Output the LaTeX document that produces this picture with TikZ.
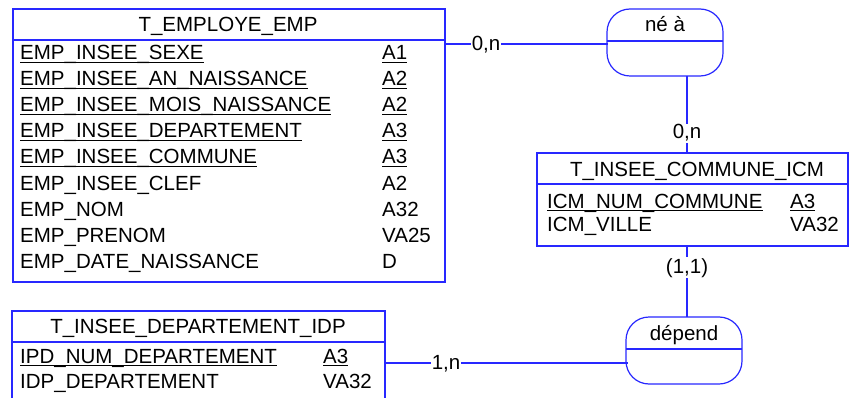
\documentclass[tikz,border=0pt]{standalone}
\usepackage{fontspec}
\setmainfont{Liberation Sans}
\definecolor{erblue}{RGB}{40,40,255}
\newcommand\fldkey[4]{\node[fld] (#1) at (#2,#3) {#4};
  \draw[uline] ([yshift=-2.8pt]#1.base west) -- ([yshift=-2.8pt]#1.base east);}
\newcommand\fldplain[4]{\node[fld] (#1) at (#2,#3) {#4};}
\begin{document}
\begin{tikzpicture}[x=1pt,y=-1pt,
  bline/.style={draw=erblue,line width=1.2pt},
  tbl/.style={bline,rectangle,inner sep=0pt,outer sep=0pt,anchor=north west},
  assoc/.style={bline,rectangle,rounded corners=23pt,inner sep=0pt,outer sep=0pt,
    minimum width=116pt,minimum height=67pt},
  fld/.style={anchor=base west,inner sep=0pt,font=\fontsize{20.5}{24}\selectfont},
  ttl/.style={anchor=base,inner sep=0pt,font=\fontsize{20.5}{24}\selectfont},
  card/.style={anchor=base,fill=white,inner sep=1pt,font=\fontsize{20.5}{24}\selectfont},
  uline/.style={draw=black,line width=1.2pt}]
\useasboundingbox (0,0) rectangle (850,398);
\fill[white] (0,0) rectangle (850,398);

% ---------- T_EMPLOYE_EMP ----------
\node[tbl,minimum width=432pt,minimum height=273pt] (emp) at (13,9) {};
\draw[bline] (emp.north west) ++(0,31) -- ++(432,0);
\node[ttl] (empt) at (228,32) {T\_EMPLOYE\_EMP};
\fldkey{e1}{20}{60}{EMP\_INSEE\_SEXE}
\fldkey{e1y}{382}{60}{A1}
\fldkey{e2}{20}{86}{EMP\_INSEE\_AN\_NAISSANCE}
\fldkey{e2y}{382}{86}{A2}
\fldkey{e3}{20}{112}{EMP\_INSEE\_MOIS\_NAISSANCE}
\fldkey{e3y}{382}{112}{A2}
\fldkey{e4}{20}{138}{EMP\_INSEE\_DEPARTEMENT}
\fldkey{e4y}{382}{138}{A3}
\fldkey{e5}{20}{164}{EMP\_INSEE\_COMMUNE}
\fldkey{e5y}{382}{164}{A3}
\fldplain{e6}{20}{190}{EMP\_INSEE\_CLEF}
\fldplain{e6y}{382}{190}{A2}
\fldplain{e7}{20}{216}{EMP\_NOM}
\fldplain{e7y}{382}{216}{A32}
\fldplain{e8}{20}{242}{EMP\_PRENOM}
\fldplain{e8y}{382}{242}{VA25}
\fldplain{e9}{20}{268}{EMP\_DATE\_NAISSANCE}
\fldplain{e9y}{382}{268}{D}

% ---------- T_INSEE_COMMUNE_ICM ----------
\node[tbl,minimum width=311pt,minimum height=93pt] (com) at (537,153) {};
\draw[bline] (com.north west) ++(0,31) -- ++(311,0);
\node[ttl] (comt) at (697,176) {T\_INSEE\_COMMUNE\_ICM};
\fldkey{c1}{547}{208}{ICM\_NUM\_COMMUNE}
\fldkey{c1y}{790}{208}{A3}
\fldplain{c2}{547}{231}{ICM\_VILLE}
\fldplain{c2y}{790}{231}{VA32}

% ---------- T_INSEE_DEPARTEMENT_IDP ----------
\node[tbl,minimum width=373pt,minimum height=95pt] (dep) at (12,311) {};
\draw[bline] (dep.north west) ++(0,31) -- ++(373,0);
\node[ttl] (dept) at (198,333) {T\_INSEE\_DEPARTEMENT\_IDP};
\fldkey{d1}{20}{363}{IPD\_NUM\_DEPARTEMENT}
\fldkey{d1y}{323}{363}{A3}
\fldplain{d2}{20}{388}{IDP\_DEPARTEMENT}
\fldplain{d2y}{323}{388}{VA32}

% ---------- associations ----------
\node[assoc] (ne) at (665,42.5) {};
\draw[bline] ([yshift=1.5pt]ne.west) -- ([yshift=1.5pt]ne.east);
\node[ttl] (net) at (665,32) {né à};

\node[assoc] (dp) at (684,350.5) {};
\draw[bline] ([yshift=1.5pt]dp.west) -- ([yshift=1.5pt]dp.east);
\node[ttl] (dpt) at (684,340) {dépend};

% ---------- connectors ----------
\coordinate (vx) at (687,0);
\coordinate (h1) at (0,44);
\coordinate (h4) at (0,363);

\draw[bline] (emp.east |- h1) -- ([xshift=1pt]ne.west |- h1);
\node[card] (l1) at (486,51) {0,n};

\draw[bline] (vx |- ne.south) -- (vx |- com.north);
\node[card] (l2) at (687,139) {0,n};

\draw[bline] (vx |- com.south) -- (vx |- dp.north);
\node[card] (l3) at (687,273) {(1,1)};

\draw[bline] (dep.east |- h4) -- ([xshift=2pt]dp.west |- h4);
\node[card] (l4) at (446,369) {1,n};
\end{tikzpicture}
\end{document}
